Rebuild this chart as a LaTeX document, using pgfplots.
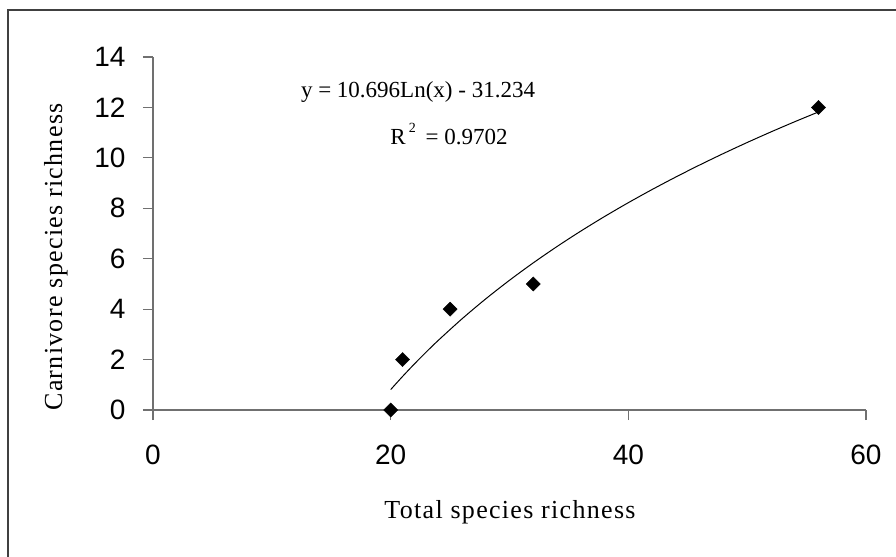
\documentclass[border=0pt]{standalone}
\usepackage{pgfplots}
\pgfplotsset{compat=1.18}
\usepackage{fontspec}
\setmainfont{Liberation Serif}
\newfontfamily\arialfont{Liberation Sans}
\newfontfamily\labfont[LetterSpace=5]{Liberation Serif}
\newfontfamily\eqfont{Liberation Serif}
\definecolor{axgray}{HTML}{707070}
\definecolor{bordergray}{HTML}{404040}
\begin{document}
\begin{tikzpicture}
\useasboundingbox (0,0) rectangle (896bp,-557bp);
\draw[bordergray, line width=1.3bp] (8bp,-557bp) -- (8bp,-10bp) -- (896bp,-10bp);
\begin{axis}[
  at={(153bp,-410bp)}, anchor=south west,
  scale only axis, width=713bp, height=353bp,
  xmin=0, xmax=60, ymin=0, ymax=14,
  axis lines*=left,
  axis line style={axgray, line width=1.2bp},
  xtick={0,20,40,60}, ytick={0,2,4,6,8,10,12,14},
  tick align=outside, major tick length=10bp,
  tick style={axgray, line width=1.2bp},
  /pgf/number format/assume math mode=true,
  tick label style={font=\arialfont\fontsize{28bp}{30bp}\selectfont, text=black},
  yticklabel style={xshift=-14bp},
  xticklabel style={yshift=-21bp},
  clip=false,
]
\addplot[black, line width=1bp, smooth, mark=none] coordinates {
(20,0.8083) (21,1.3302) (22,1.8278) (23,2.3032) (24,2.7585) (26,3.6146)
(28,4.4073) (30,5.1452) (32,5.8355) (34,6.4840) (36,7.0953) (38,7.6736)
(40,8.2222) (42,8.7441) (44,9.2417) (46,9.7171) (48,10.1724) (50,10.6090)
(52,11.0285) (54,11.4322) (56,11.8212)
};
\addplot[only marks, mark=square*, mark size=5bp, mark options={rotate=45, fill=black, draw=black}] coordinates {
(20,0) (21,2) (25,4) (32,5) (56,12)
};
\end{axis}
\node[anchor=base, font=\labfont\fontsize{26bp}{28bp}\selectfont] at (510bp,-518bp) {Total species richness};
\node[anchor=base, rotate=90, font=\labfont\fontsize{26bp}{28bp}\selectfont] at (62bp,-257bp) {Carnivore species richness};
\node[anchor=base, font=\eqfont\fontsize{23bp}{25bp}\selectfont] at (418bp,-97bp) {y = 10.696Ln(x) - 31.234};
\node[anchor=base, font=\eqfont\fontsize{23bp}{25bp}\selectfont] at (449bp,-144bp) {R\hspace{3bp}\raisebox{1.1ex}{\fontsize{14bp}{15bp}\selectfont 2}\hspace{4bp} = 0.9702};
\end{tikzpicture}
\end{document}
